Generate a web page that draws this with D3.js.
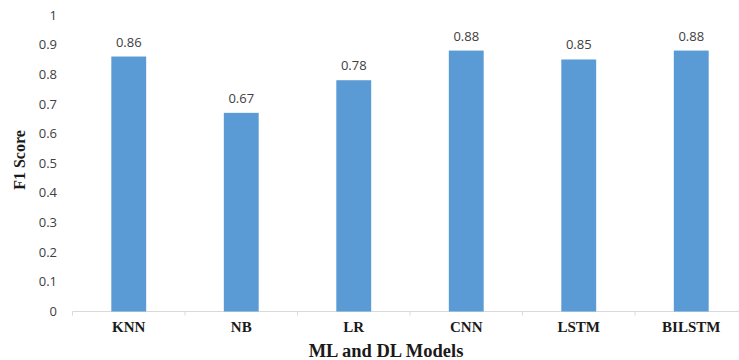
<!DOCTYPE html>
<html><head><meta charset="utf-8">
<script src="https://cdn.jsdelivr.net/npm/d3@7"></script>
<style>html,body{margin:0;padding:0;background:#fff;overflow:hidden}</style>
</head><body>
<script>
const categories = ["KNN","NB","LR","CNN","LSTM","BILSTM"];
const f1Scores = [0.86,0.67,0.78,0.88,0.85,0.88];
const yTicks = [0,0.1,0.2,0.3,0.4,0.5,0.6,0.7,0.8,0.9,1];
const yTickLabels = ["0","0.1","0.2","0.3","0.4","0.5","0.6","0.7","0.8","0.9","1"];

const W = 739, H = 360;
const svg = d3.select("body").append("svg").attr("width", W).attr("height", H);

const x = d3.scaleBand().domain(categories).range([72.5, 747.5]).paddingInner(0.69).paddingOuter(0.345);
const y = d3.scaleLinear().domain([0, 1]).range([311.5, 15]);

// x axis line with ticks at band boundaries
const xAxisG = svg.append("g");
xAxisG.append("line").attr("x1", 72.5).attr("x2", 747.5).attr("y1", y(0)).attr("y2", y(0))
  .attr("stroke", "#d9d9d9").attr("stroke-width", 1);
const bounds = d3.range(categories.length + 1).map(i => 72.5 + i * (675 / categories.length));
xAxisG.selectAll("line.tk").data(bounds).join("line").attr("class","tk")
  .attr("x1", d => d).attr("x2", d => d).attr("y1", y(0)).attr("y2", y(0) + 4)
  .attr("stroke", "#d9d9d9");

// y tick labels
svg.append("g").selectAll("text").data(yTicks).join("text")
  .attr("x", 57).attr("y", d => y(d)).attr("dy", "0.35em")
  .attr("text-anchor", "end").attr("font-family", "Open Sans, sans-serif")
  .attr("font-size", 13).attr("fill", "#404040")
  .text((d, i) => yTickLabels[i]);

// bars
svg.append("g").selectAll("rect").data(categories).join("rect")
  .attr("x", d => x(d)).attr("width", x.bandwidth())
  .attr("y", (d, i) => y(f1Scores[i])).attr("height", (d, i) => y(0) - y(f1Scores[i]))
  .attr("fill", "#5b9bd5");

// value labels
svg.append("g").selectAll("text").data(categories).join("text")
  .attr("x", d => x(d) + x.bandwidth() / 2).attr("y", (d, i) => y(f1Scores[i]) - 10)
  .attr("text-anchor", "middle").attr("font-family", "Open Sans, sans-serif")
  .attr("font-size", 13).attr("fill", "#404040")
  .text((d, i) => f1Scores[i].toFixed(2));

// category labels
svg.append("g").selectAll("text").data(categories).join("text")
  .attr("x", d => x(d) + x.bandwidth() / 2).attr("y", 332)
  .attr("text-anchor", "middle").attr("font-family", "Liberation Serif, Times New Roman, serif")
  .attr("font-weight", "bold").attr("font-size", 15).attr("fill", "#1a1a1a")
  .text(d => d);

// axis titles
svg.append("text").attr("x", 386).attr("y", 357).attr("text-anchor", "middle")
  .attr("font-family", "Liberation Serif, Times New Roman, serif").attr("font-weight", "bold")
  .attr("font-size", 18.5).attr("fill", "#1a1a1a").text("ML and DL Models");
svg.append("text").attr("transform", "translate(25,160) rotate(-90)").attr("text-anchor", "middle")
  .attr("font-family", "Liberation Serif, Times New Roman, serif").attr("font-weight", "bold")
  .attr("font-size", 16).attr("fill", "#1a1a1a").text("F1 Score");
</script>
</body></html>
